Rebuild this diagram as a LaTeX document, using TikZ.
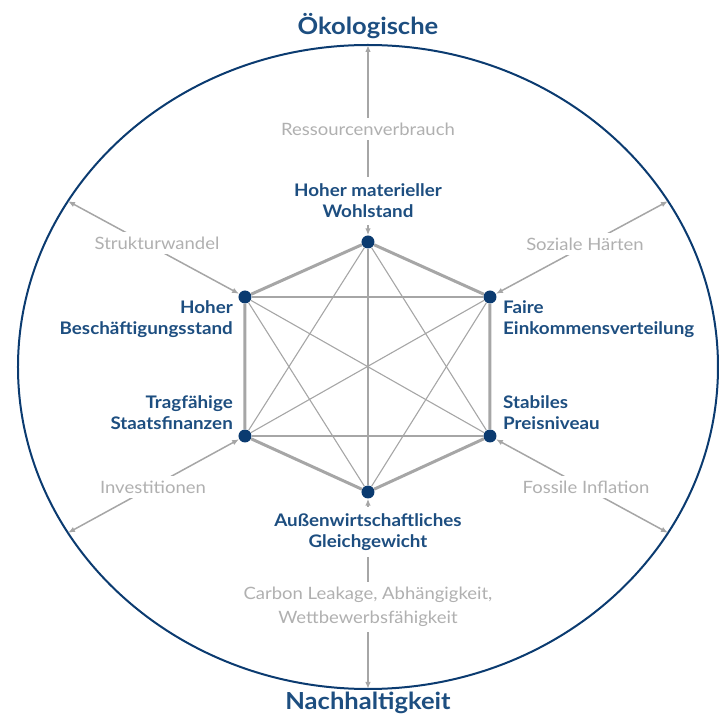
\documentclass[tikz,border=0pt]{standalone}
\usepackage{fontspec}
\setmainfont{Lato}[FakeStretch=1.087]
\usetikzlibrary{arrows.meta}

\definecolor{navy}{HTML}{0B3B70}
\definecolor{goalblue}{HTML}{1D4E80}
\definecolor{linegray}{HTML}{A6A6A6}
\definecolor{textgray}{HTML}{B0B0B0}

\tikzset{
    goal/.style={circle, fill=navy, inner sep=0pt, minimum size=13pt},
    goallabel/.style={text=goalblue, font=\fontsize{17.3}{21}\selectfont\bfseries, align=center, inner xsep=2pt, inner ysep=7pt},
    conflict/.style={text=textgray, font=\fontsize{17}{24}\selectfont, align=center, fill=white, inner sep=5pt},
    tradeoff/.style={linegray, line width=1.5pt, {Latex[length=7pt,width=5.5pt]}-{Latex[length=7pt,width=5.5pt]}},
    chord/.style={linegray, line width=1.1pt},
    rim/.style={linegray, line width=3pt},
    heading/.style={text=goalblue, font=\fontsize{23.5}{28}\selectfont\bfseries},
}

\begin{document}
\begin{tikzpicture}[x=1pt, y=1pt]
    \useasboundingbox (-368,-353) rectangle (356,367);

    \draw[navy, line width=2pt] (0,0) ellipse [x radius=350, y radius=322];

    \node[heading, anchor=base] (oeko) at (0,332) {Ökologische};
    \node[heading, anchor=base] (nachhaltig) at (0,-342) {Nachhaltigkeit};

    % points on the rim
    \coordinate (r1) at (90:350pt and 322pt);
    \coordinate (r2) at (31:350pt and 322pt);
    \coordinate (r3) at (-31:350pt and 322pt);
    \coordinate (r4) at (-90:350pt and 322pt);
    \coordinate (r5) at (211:350pt and 322pt);
    \coordinate (r6) at (149:350pt and 322pt);

    % the six goals
    \node[goal] (wohlstand) at (0,125) {};
    \node[goal] (einkommen) at (122,70) {};
    \node[goal] (preis) at (122,-69) {};
    \node[goal] (aussen) at (0,-125) {};
    \node[goal] (finanzen) at (-123,-69) {};
    \node[goal] (beschaeftigung) at (-123,70) {};

    \foreach \a/\b in {wohlstand/preis, wohlstand/aussen, wohlstand/finanzen,
                       einkommen/aussen, einkommen/finanzen, einkommen/beschaeftigung,
                       preis/finanzen, preis/beschaeftigung, aussen/beschaeftigung}
        \draw[chord] (\a) -- (\b);

    \draw[rim] (wohlstand) -- (einkommen) -- (preis) -- (aussen) -- (finanzen) -- (beschaeftigung) -- (wohlstand);

    \draw[tradeoff] (r1) -- (wohlstand);
    \draw[tradeoff] (r2) -- (einkommen);
    \draw[tradeoff] (r3) -- (preis);
    \draw[tradeoff] (r4) -- (aussen);
    \draw[tradeoff] (r5) -- (finanzen);
    \draw[tradeoff] (r6) -- (beschaeftigung);

    \node[conflict] (ressourcen) at (0,238) {Ressourcenverbrauch};
    \node[conflict] (soziales) at (217,123) {Soziale Härten};
    \node[conflict] (inflation) at (218,-120) {Fossile Inflation};
    \node[conflict] (leakage) at (0,-240) {Carbon Leakage, Abhängigkeit,\\Wettbewerbsfähigkeit};
    \node[conflict] (investition) at (-215,-120) {Investitionen};
    \node[conflict] (struktur) at (-211,124) {Strukturwandel};

    \node[goallabel, fill=white] at (0,166) {Hoher materieller\\Wohlstand};
    \node[goallabel, anchor=east, align=right] at (-133,48) {Hoher\\Beschäftigungsstand};
    \node[goallabel, anchor=west, align=left] at (133,48) {Faire\\Einkommensverteilung};
    \node[goallabel, anchor=east, align=right] at (-133,-46) {Tragfähige\\Staatsfinanzen};
    \node[goallabel, anchor=west, align=left] at (133,-46) {Stabiles\\Preisniveau};
    \node[goallabel, fill=white] at (0,-165) {Außenwirtschaftliches\\Gleichgewicht};
\end{tikzpicture}
\end{document}
